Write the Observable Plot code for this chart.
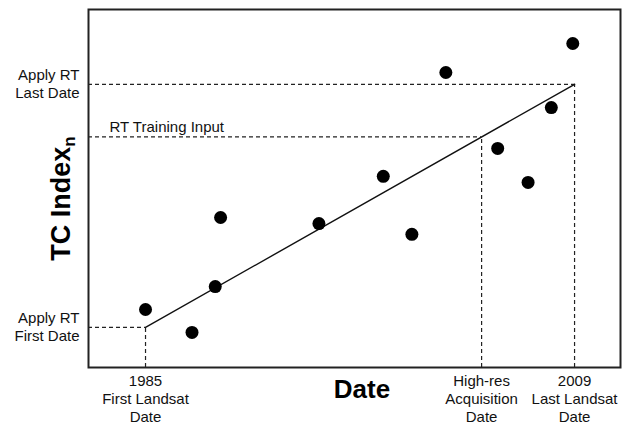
<!DOCTYPE html>
<html>
<head>
<meta charset="utf-8">
<script src="https://cdn.jsdelivr.net/npm/d3@7"></script>
<script src="https://cdn.jsdelivr.net/npm/@observablehq/plot@0.6"></script>
<style>
  html, body { margin: 0; padding: 0; background: #fff; }
  #chart svg { display: block; }
</style>
</head>
<body>
<div id="chart"></div>
<script>
// ---- data ----
const years    = [1985.0, 1987.6, 1988.9, 1989.2, 1994.7, 1998.3, 1999.9, 2001.8, 2004.7, 2006.4, 2007.7, 2008.9];
const tcValues = [16.2,   9.8,    22.6,   41.9,   40.2,   53.4,   37.2,   82.4,   61.2,   51.7,   72.6,   90.5];

const fitYears  = [1985, 2009];
const fitValues = [11.2, 79.1];

const guideYears  = [1985, 2003.8, 2009];
const guideValues = [11.2, 64.4, 79.1];

const xTickLabels = ["1985\nFirst Landsat\nDate", "High-res\nAcquisition\nDate", "2009\nLast Landsat\nDate"];
const yTickValues = [11.2, 79.1];
const yTickLabels = ["Apply RT\nFirst Date", "Apply RT\nLast Date"];
const trainingLabel = ["RT Training Input"];
const trainingValue = [64.4];

const xDomain = [1981.81, 2011.57];
const yDomain = [0, 100];

// ---- tables ----
const points = years.map((x, i) => ({x, y: tcValues[i]}));
const fit = fitYears.map((x, i) => ({x, y: fitValues[i]}));
const guides = guideYears.map((x, i) => ({x, y: guideValues[i], x0: xDomain[0], y0: yDomain[0]}));
const xLabels = guideYears.map((x, i) => ({x, label: xTickLabels[i]}));
const yLabels = yTickValues.map((y, i) => ({y, label: yTickLabels[i]}));
const training = trainingValue.map((y, i) => ({y, label: trainingLabel[i]}));

const ink = "#111";
const dash = "4,3";

const chart = Plot.plot({
  width: 629,
  height: 424,
  marginLeft: 88,
  marginRight: 9,
  marginTop: 9,
  marginBottom: 57,
  style: {fontFamily: "'Liberation Sans', Arial, sans-serif", color: ink, background: "#fff"},
  x: {domain: xDomain, axis: null},
  y: {domain: yDomain, axis: null},
  marks: [
    // dashed guides
    Plot.ruleY(guides, {y: "y", x1: "x0", x2: "x", stroke: "#222", strokeWidth: 1.2, strokeDasharray: dash}),
    Plot.ruleX(guides, {x: "x", y1: "y0", y2: "y", stroke: "#222", strokeWidth: 1.2, strokeDasharray: dash}),
    // fit line
    Plot.line(fit, {x: "x", y: "y", stroke: ink, strokeWidth: 1.4}),
    // points
    Plot.dot(points, {x: "x", y: "y", r: 6.5, fill: "#000", stroke: "none"}),
    // frame
    Plot.frame({stroke: "#222", strokeWidth: 2}),
    // x labels
    Plot.text(xLabels, {x: "x", text: "label", frameAnchor: "bottom", lineAnchor: "top", dy: 6,
      fontSize: 15, lineHeight: 1.2, fill: ink}),
    // y labels
    Plot.text(yLabels, {y: "y", text: "label", frameAnchor: "left", textAnchor: "end", lineAnchor: "middle",
      dx: -9, dy: -1.5, fontSize: 15, lineHeight: 1.2, fill: ink}),
    // training label
    Plot.text(training, {y: "y", text: "label", frameAnchor: "left", textAnchor: "start", lineAnchor: "bottom",
      dx: 21, dy: -5, fontSize: 15, fill: ink}),
    // axis titles
    Plot.text(["Date"], {frameAnchor: "bottom", lineAnchor: "bottom", dx: 7.5, dy: 30,
      fontSize: 26, fontWeight: "bold", fill: "#000"}),
    Plot.text(["TC Index"], {frameAnchor: "left", textAnchor: "middle", lineAnchor: "bottom", rotate: -90, dx: -19, dy: 10,
      fontSize: 27, fontWeight: "bold", fill: "#000", className: "ytitle"})
  ]
});

document.getElementById("chart").appendChild(chart);

// subscript n on the y title
d3.select(chart).selectAll(".ytitle text").each(function() {
  d3.select(this).append("tspan").attr("dy", 5).attr("font-size", 17).text("n");
});
</script>
</body>
</html>
